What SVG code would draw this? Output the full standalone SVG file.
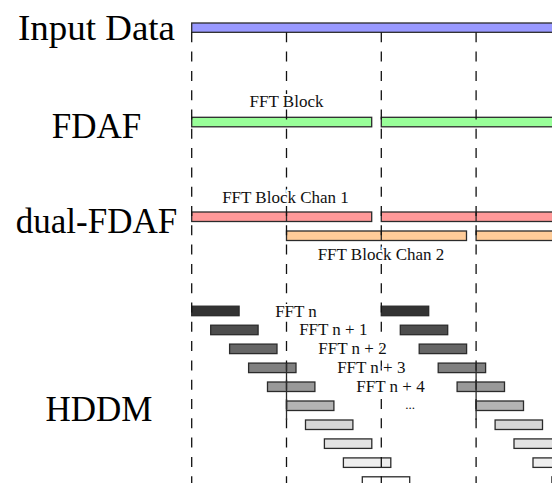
<svg xmlns="http://www.w3.org/2000/svg" width="552" height="483" viewBox="0 0 552 483">
<style>
.big{font-family:"Liberation Serif",serif;font-size:35px;fill:#000;text-anchor:middle}
.sm{font-family:"Liberation Serif",serif;font-size:17px;fill:#111;text-anchor:middle;paint-order:stroke;stroke:#fff;stroke-width:4;stroke-linejoin:round}
.bar{stroke:#2b2b2b;stroke-width:1.3}
.dash{stroke:#111;stroke-width:1.3;stroke-dasharray:10 9.3;fill:none}
.div{stroke:#2b2b2b;stroke-width:1.3}
</style>
<rect width="552" height="483" fill="#fff"/>
<g id="labels">
<text class="big" x="96.5" y="39.5" textLength="157" lengthAdjust="spacingAndGlyphs">Input Data</text>
<text class="big" x="96.5" y="137.7">FDAF</text>
<text class="big" x="96.5" y="233.3">dual-FDAF</text>
<text class="big" x="99" y="421">HDDM</text>
</g>
<g id="input-data">
<rect class="bar" x="191.7" y="23" width="380" height="9.3" fill="#9999ff"/>
</g>
<g id="fdaf">
<rect class="bar" x="191.7" y="117.3" width="180" height="9.5" fill="#99ff99"/>
<rect class="bar" x="381.3" y="117.3" width="190" height="9.5" fill="#99ff99"/>
</g>
<g id="dual-fdaf">
<rect class="bar" x="191.7" y="212" width="180" height="9.5" fill="#ff9999"/>
<rect class="bar" x="381.3" y="212" width="190" height="9.5" fill="#ff9999"/>
<rect class="bar" x="286.5" y="231" width="180" height="9.5" fill="#ffcc99"/>
<rect class="bar" x="476.1" y="231" width="100" height="9.5" fill="#ffcc99"/>
<line class="div" x1="286.5" y1="212" x2="286.5" y2="221.5"/>
<line class="div" x1="476.1" y1="212" x2="476.1" y2="221.5"/>
<line class="div" x1="381.3" y1="231" x2="381.3" y2="240.5"/>
</g>
<g id="hddm">
<rect class="bar" x="191.7" y="306.2" width="47.4" height="9.5" fill="#333333"/>
<rect class="bar" x="210.7" y="325.2" width="47.4" height="9.5" fill="#4d4d4d"/>
<rect class="bar" x="229.6" y="344.1" width="47.4" height="9.5" fill="#666666"/>
<rect class="bar" x="248.6" y="363.1" width="47.4" height="9.5" fill="#808080"/>
<rect class="bar" x="267.5" y="382" width="47.4" height="9.5" fill="#999999"/>
<rect class="bar" x="286.5" y="401" width="47.4" height="9.5" fill="#b3b3b3"/>
<rect class="bar" x="305.5" y="420" width="47.4" height="9.5" fill="#d6d6d6"/>
<rect class="bar" x="324.4" y="438.9" width="47.4" height="9.5" fill="#e3e3e3"/>
<rect class="bar" x="343.4" y="457.9" width="47.4" height="9.5" fill="#efefef"/>
<rect class="bar" x="362.3" y="476.8" width="47.4" height="9.5" fill="#ffffff"/>
<rect class="bar" x="381.3" y="306.2" width="47.4" height="9.5" fill="#333333"/>
<rect class="bar" x="400.3" y="325.2" width="47.4" height="9.5" fill="#4d4d4d"/>
<rect class="bar" x="419.2" y="344.1" width="47.4" height="9.5" fill="#666666"/>
<rect class="bar" x="438.2" y="363.1" width="47.4" height="9.5" fill="#808080"/>
<rect class="bar" x="457.1" y="382" width="47.4" height="9.5" fill="#999999"/>
<rect class="bar" x="476.1" y="401" width="47.4" height="9.5" fill="#b3b3b3"/>
<rect class="bar" x="495.1" y="420" width="47.4" height="9.5" fill="#d6d6d6"/>
<rect class="bar" x="514" y="438.9" width="47.4" height="9.5" fill="#e3e3e3"/>
<rect class="bar" x="533" y="457.9" width="47.4" height="9.5" fill="#efefef"/>
<rect class="bar" x="551.9" y="476.8" width="47.4" height="9.5" fill="#ffffff"/>
</g>
<g id="connectors">
<line class="dash" x1="191.7" y1="32.3" x2="191.7" y2="483"/>
<line class="dash" x1="286.5" y1="32.3" x2="286.5" y2="483"/>
<line class="dash" x1="381.3" y1="32.3" x2="381.3" y2="483"/>
<line class="dash" x1="476.1" y1="32.3" x2="476.1" y2="483"/>
<line class="div" x1="286.5" y1="363" x2="286.5" y2="420"/>
<line class="div" x1="476.1" y1="363" x2="476.1" y2="420"/>
</g>
<g id="bar-labels">
<text class="sm" x="286.5" y="107">FFT Block</text>
<text class="sm" x="285.5" y="203">FFT Block Chan 1</text>
<text class="sm" x="381" y="260">FFT Block Chan 2</text>
<text class="sm" x="296" y="316.7">FFT n</text>
<text class="sm" x="333.3" y="335">FFT n + 1</text>
<text class="sm" x="352.5" y="354">FFT n + 2</text>
<text class="sm" x="371.3" y="373">FFT n + 3</text>
<text class="sm" x="390.5" y="392">FFT n + 4</text>
<text class="sm" x="410" y="408.5" style="font-size:13px">...</text>
</g>
</svg>
